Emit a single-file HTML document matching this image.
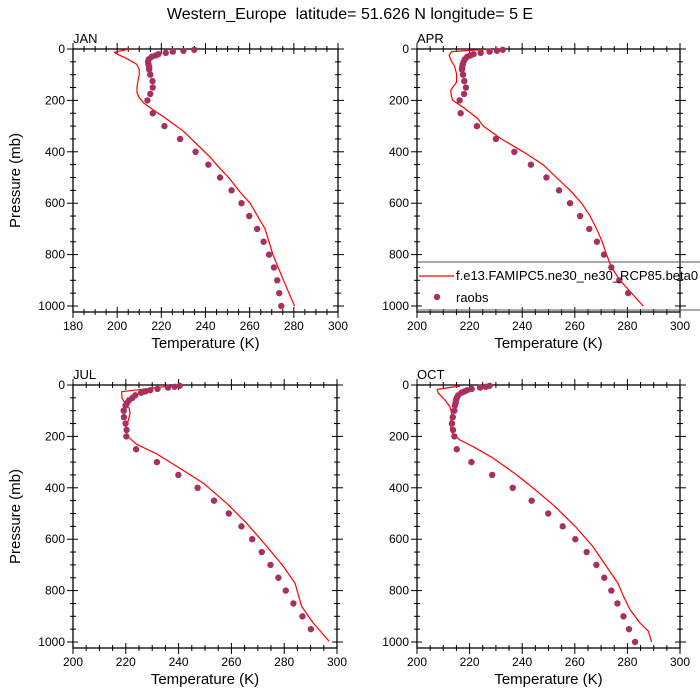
<!DOCTYPE html>
<html><head><meta charset="utf-8"><style>
html,body{margin:0;padding:0;background:#fff;}
svg{display:block;font-family:"Liberation Sans",sans-serif;}
</style></head><body>
<svg id="chart" width="700" height="700" viewBox="0 0 700 700" xmlns="http://www.w3.org/2000/svg">
<text x="350" y="19" text-anchor="middle" font-size="16" fill="#000">Western_Europe&#160; latitude= 51.626 N longitude= 5 E</text>
</svg>
<script>
// ---- data ----
const obsLevels = [3,7,10,15,20,25,30,40,50,60,70,80,100,125,150,175,200,250,300,350,400,450,500,550,600,650,700,750,800,850,900,950,1000];
const janObsT = [234.9,230.0,225.2,222,218.7,217.5,215.7,214.3,214,214.2,214.5,214.5,215,216,216.1,215,213.7,216.1,221.4,228.5,235.5,241.3,246.6,251.8,256.3,259.8,263.4,266.3,268.8,271,272.5,273.4,274.3];
const aprObsT = [232.6,230.4,227.6,224.2,221.5,220.3,219.1,218.2,217.7,217.4,217.2,217.1,217.5,218,218.6,217.9,216.2,216.6,222.8,230,237,243.3,249.2,254,258.2,262,265.5,268.4,271.1,273.9,276.9,280.3,null];
const julObsT = [240.4,238.5,236,232,229.3,227.4,225.8,223.6,222.5,221.2,220.5,219.9,219.2,219.3,219.9,220.3,220.2,223.9,231.8,239.9,247.2,253.4,259,263.8,267.9,271.5,274.8,277.8,280.6,283.5,286.9,290.1,null];
const octObsT = [227.6,226.1,224,220.8,219.1,218,216.9,215.7,215.1,214.8,214.7,214.4,214.2,213.6,213.3,213.7,214.2,215.1,220.7,228.6,236.4,243.6,249.9,255.4,260.2,264.5,268.2,271.2,273.9,276.2,278.5,280.6,282.9,null];

const janModP = [0,13,20,40,60,80,100,120,150,170,190,210,235,270,320,370,420,460,500,560,600,700,800,900,1000];
const janModT = [205.5,198.7,200,205,208.9,210,210,209.5,209,209,210,212,216,222,230,236,242,246,250.4,256,260.2,267,270.5,275.3,280.3];
const aprModP = [0,10,25,45,70,100,130,160,180,200,230,270,300,350,400,450,500,550,600,650,700,750,800,850,900,950,1000];
const aprModT = [227.7,213.2,212.2,213,214.4,215.1,215,212.8,213,213.6,218,223,225.2,232,240.4,248,253,258.2,262.6,265.8,268.3,270.4,272.1,274,277.2,281.6,286];
const julModP = [0,26,52,71,90,110,136,162,194,203,230,268,324,382,460,538,628,706,771,861,926,997];
const julModT = [239.9,218.4,218.6,219.7,221.3,221.6,221,220.1,220.3,221,224,231.7,240.5,249.4,258.2,265.8,273.4,279.7,284.1,286.6,291,297];
const octModP = [4,17,32,58,84,110,142,168,194,214,240,285,350,408,473,550,628,706,771,822,874,926,958,1000];
const octModT = [216.3,207.7,208.1,210.6,212.5,213.2,212.8,212.8,213.8,216.3,221.4,229,237.9,245,252.5,260.2,266.8,272,276.4,278.5,281,284.8,288,289.2];

const yTicks = [0,200,400,600,800,1000];
const janXTicks = [180,200,220,240,260,280,300];
const xTicks = [200,220,240,260,280,300];

const panels = [
  {name:'jan',label:'JAN',x0:73,y0:49,w:265,xmin:180,xmax:300,ticks:janXTicks,obs:janObsT,mp:janModP,mt:janModT},
  {name:'apr',label:'APR',x0:417,y0:49,w:263,xmin:200,xmax:300,ticks:xTicks,obs:aprObsT,mp:aprModP,mt:aprModT},
  {name:'jul',label:'JUL',x0:73,y0:385,w:264,xmin:200,xmax:300,ticks:xTicks,obs:julObsT,mp:julModP,mt:julModT},
  {name:'oct',label:'OCT',x0:417,y0:385,w:263,xmin:200,xmax:300,ticks:xTicks,obs:octObsT,mp:octModP,mt:octModT}
];
const NS='http://www.w3.org/2000/svg';
const svg=document.getElementById('chart');
function mk(tag,attrs,parent){const e=document.createElementNS(NS,tag);for(const k in attrs)e.setAttribute(k,attrs[k]);(parent||svg).appendChild(e);return e;}
const H=263, PY=0.257;
panels.forEach(pn=>{
  const g=mk('g',{});
  
  
  const sx=t=>pn.x0+(t-pn.xmin)/(pn.xmax-pn.xmin)*pn.w;
  const sy=p=>pn.y0+p*PY;
  const x1=pn.x0+pn.w, yb=pn.y0+H;
  for(let t=pn.xmin;t<=pn.xmax;t+=5){
    const major=(t%20===0);const a=major?6:3;const b=major?5:3;const x=sx(t);
    mk('line',{x1:x,y1:yb+a,x2:x,y2:yb-b,stroke:'#000','stroke-width':1},g);
    mk('line',{x1:x,y1:pn.y0-a,x2:x,y2:pn.y0+b,stroke:'#000','stroke-width':1},g);
  }
  for(let p=0;p<=1000;p+=50){
    const major=(p%200===0);const a=major?6:3;const b=major?5:3;const y=sy(p);
    mk('line',{x1:pn.x0-a,y1:y,x2:pn.x0+b,y2:y,stroke:'#000','stroke-width':1},g);
    mk('line',{x1:x1+a,y1:y,x2:x1-b,y2:y,stroke:'#000','stroke-width':1},g);
  }
  const box=mk('rect',{x:pn.x0,y:pn.y0,width:pn.w,height:H,fill:'none',stroke:'#000','stroke-width':1.3},g);
  
  
  pn.ticks.forEach(t=>{
    const tx=mk('text',{x:sx(t),y:yb+18,'text-anchor':'middle','font-size':12},g);
    tx.textContent=t;
    
    
  });
  yTicks.forEach(p=>{
    const tx=mk('text',{x:pn.x0-8,y:sy(p)+4,'text-anchor':'end','font-size':12},g);
    tx.textContent=p;
    
    
  });
  const lb=mk('text',{x:pn.x0,y:pn.y0-6,'font-size':13},g);
  lb.textContent=pn.label;
  
  
  const xt=mk('text',{x:pn.x0+pn.w/2,y:yb+36,'text-anchor':'middle','font-size':15},g);
  xt.textContent='Temperature (K)';
  
  
  if(pn.x0<200){
    const cy=pn.y0+H/2;
    const yt=mk('text',{x:20,y:cy,'text-anchor':'middle','font-size':15,transform:'rotate(-90 20 '+cy+')'},g);
    yt.textContent='Pressure (mb)';
    
    
  }
  const pts=pn.mp.map((p,i)=>sx(pn.mt[i]).toFixed(1)+','+sy(p).toFixed(1)).join(' ');
  const pl=mk('polyline',{points:pts,fill:'none',stroke:'#ff0000','stroke-width':1.2,'stroke-linejoin':'round'},g);
  
  
  obsLevels.forEach((p,i)=>{
    const t=pn.obs[i]; if(t==null) return;
    const c=mk('circle',{cx:sx(t),cy:sy(p),r:3.2,fill:'#a8305e'},g);
    
    
  });
});
const lg=mk('g',{});


mk('line',{x1:417,y1:262,x2:700,y2:262,stroke:'#555','stroke-width':1},lg);
mk('line',{x1:417,y1:310,x2:700,y2:310,stroke:'#555','stroke-width':1},lg);
const ll=mk('line',{x1:419,y1:276,x2:454,y2:276,stroke:'#ff0000','stroke-width':1.2},lg);


const lt1=mk('text',{x:456,y:280,'font-size':13},lg);
lt1.textContent='f.e13.FAMIPC5.ne30_ne30_RCP85.beta0';


const ld=mk('circle',{cx:437,cy:297,r:3.2,fill:'#a8305e'},lg);


const lt2=mk('text',{x:456,y:302,'font-size':13},lg);
lt2.textContent='raobs';


</script>
</body></html>
